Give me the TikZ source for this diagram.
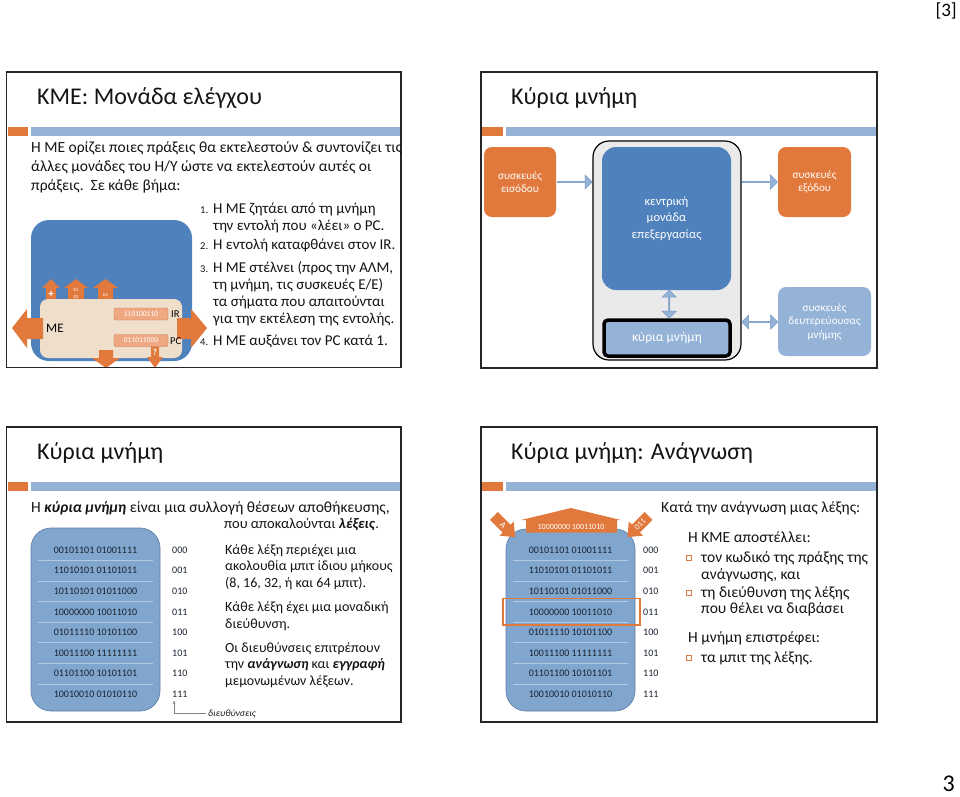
\documentclass[tikz,border=0pt]{standalone}
\usepackage{fontspec}
\setmainfont{Carlito}
\usetikzlibrary{shapes.arrows,calc,arrows.meta}
\definecolor{org}{RGB}{226,121,60}
\definecolor{barblue}{RGB}{149,179,215}
\definecolor{dblue}{RGB}{79,129,189}
\definecolor{lblue}{RGB}{149,179,215}
\definecolor{arrowedge}{RGB}{115,150,195}
\definecolor{beige}{RGB}{238,222,202}
\definecolor{salmon}{RGB}{240,168,130}
\definecolor{salmonedge}{RGB}{205,120,80}
\definecolor{cgray}{RGB}{234,234,234}
\definecolor{blobfill}{RGB}{128,166,206}
\definecolor{blobedge}{RGB}{95,128,170}
\definecolor{rowtext}{RGB}{25,35,50}
\definecolor{txt}{RGB}{20,20,20}
\begin{document}
\begin{tikzpicture}[x=1pt,y=-1pt,
  frame/.style={draw=black!85, line width=1.2pt},
  ttl/.style={font=\fontsize{24}{28}\selectfont, anchor=base west, inner sep=0, text=txt},
  body/.style={font=\fontsize{15.5}{18}\selectfont, anchor=base west, inner sep=0, text=txt},
  lst/.style={font=\fontsize{15}{18}\selectfont, anchor=base west, inner sep=0, text=txt},
  sub/.style={font=\fontsize{14}{17}\selectfont, anchor=base west, inner sep=0, text=txt},
  num/.style={font=\fontsize{10.5}{12}\selectfont, anchor=base west, inner sep=0, text=txt},
  wbox/.style={rounded corners=8pt, text=white, align=center, inner sep=0,
     font=\fontsize{11.2}{13.5}\selectfont},
  barrow/.style={single arrow, fill=lblue, draw=arrowedge, line width=0.5pt,
     minimum width=14pt, single arrow head extend=3pt, inner sep=0},
  dbarrow/.style={double arrow, fill=lblue, draw=arrowedge, line width=0.5pt,
     minimum width=14pt, double arrow head extend=3pt, inner sep=0},
  rowtxt/.style={font=\fontsize{10}{12}\selectfont, text=rowtext, inner sep=0},
  addr/.style={font=\fontsize{10}{12}\selectfont, text=rowtext, inner sep=0, anchor=west},
  wsmall/.style={text=white, inner sep=0},
  bul/.style={draw=org, line width=0.8pt}
]
\useasboundingbox (0,0) rectangle (960,796);
\fill[white] (0,0) rectangle (960,796);

% page numbers
\node[font=\fontsize{19}{22}\selectfont, anchor=north east, inner sep=0] (pg1) at (957,3) {[3]};
\node[font=\fontsize{24}{28}\selectfont, anchor=base east, inner sep=0] (pg2) at (955,791) {3};

% ================= Slide 1 =================
\begin{scope}
\clip (6.5,72) rectangle (401,367.5);
\fill[org] (7.5,127) rectangle (28,136);
\fill[barblue] (31,127) rectangle (400,136);
\fill[dblue, rounded corners=18pt] (31,220) rectangle (192,361);
% up arrows
\fill[org] (46,302) -- (46,288) -- (42,288) -- (51,279) -- (60,288) -- (56,288) -- (56,302) -- cycle;
\fill[org] (68,302) -- (68,288) -- (64,288) -- (76,279) -- (88,288) -- (84,288) -- (84,302) -- cycle;
\fill[org] (98,302) -- (98,288) -- (93,288) -- (105.5,279) -- (118,288) -- (113,288) -- (113,302) -- cycle;
\fill[beige, rounded corners=8pt] (40,299) rectangle (182,358);
% left / right arrows
\fill[org] (12,328) -- (27,309) -- (27,318) -- (43,318) -- (43,339) -- (27,339) -- (27,348) -- cycle;
\fill[org] (177,318) -- (191,318) -- (191,309) -- (207,328) -- (191,348) -- (191,339) -- (177,339) -- cycle;
% down arrows
\fill[org] (99,350) -- (113,350) -- (113,358) -- (120,358) -- (106,368) -- (92,358) -- (99,358) -- cycle;
\fill[org] (151,344) -- (159,344) -- (159,357) -- (163,357) -- (155,368) -- (147,357) -- (151,357) -- cycle;
\end{scope}
\draw[frame] (6.5,72) rectangle (401,367.5);
\node[wsmall, font=\bfseries\fontsize{11}{12}\selectfont] (plus) at (51,294) {+};
\node[wsmall, font=\fontsize{4.5}{5}\selectfont] (r1) at (76,290.5) {R1};
\node[wsmall, font=\fontsize{4.5}{5}\selectfont] (r3) at (76,297) {R3};
\node[wsmall, font=\fontsize{4.5}{5}\selectfont] (r2) at (105.5,295) {R2};
\node[wsmall, font=\bfseries\fontsize{9}{10}\selectfont] (qm) at (155,352) {?};
\node[draw=salmonedge, fill=salmon, rounded corners=2pt, minimum width=54pt, minimum height=12pt, inner sep=0,
  text=white, font=\fontsize{7.5}{8}\selectfont] (ir) at (141,314) {110100110};
\node[draw=salmonedge, fill=salmon, rounded corners=2pt, minimum width=54pt, minimum height=12pt, inner sep=0,
  text=white, font=\fontsize{7.5}{8}\selectfont] (pc) at (141,340.5) {011011000};
\node[anchor=west, inner sep=0, font=\fontsize{10.5}{12}\selectfont] (irl) at (171,314) {IR};
\node[anchor=west, inner sep=0, font=\fontsize{10.5}{12}\selectfont] (pcl) at (170,341) {PC};
\node[anchor=west, inner sep=0, font=\fontsize{13}{15}\selectfont] (me) at (46,328) {ME};

\node[ttl] (t1) at (37,104) {ΚΜΕ: Μονάδα ελέγχου};
\node[body] (b11) at (31,152) {Η ΜΕ ορίζει ποιες πράξεις θα εκτελεστούν \& συντονίζει τις};
\node[body] (b12) at (31,171) {άλλες μονάδες του Η/Υ ώστε να εκτελεστούν αυτές οι};
\node[body] (b13) at (31,190) {πράξεις.\ \ Σε κάθε βήμα:};
\node[num] (n1) at (200,213.5) {1.};
\node[lst] (l11) at (213,213.5) {Η ΜΕ ζητάει από τη μνήμη};
\node[lst] (l12) at (213,230.5) {την εντολή που «λέει» ο PC.};
\node[num] (n2) at (200,249.5) {2.};
\node[lst] (l21) at (213,249.5) {Η εντολή καταφθάνει στον IR.};
\node[num] (n3) at (200,272.5) {3.};
\node[lst] (l31) at (213,272.5) {Η ΜΕ στέλνει (προς την ΑΛΜ,};
\node[lst] (l32) at (213,289.5) {τη μνήμη, τις συσκευές Ε/Ε)};
\node[lst] (l33) at (213,306.5) {τα σήματα που απαιτούνται};
\node[lst] (l34) at (213,323.5) {για την εκτέλεση της εντολής.};
\node[num] (n4) at (200,345.5) {4.};
\node[lst] (l41) at (213,345.5) {Η ΜΕ αυξάνει τον PC κατά 1.};

% ================= Slide 2 =================
\draw[frame] (481,72) rectangle (877,368);
\fill[org] (482,127) rectangle (503,136);
\fill[barblue] (506,127) rectangle (876,136);
\node[ttl] (t2) at (511,104) {Κύρια μνήμη};
\node[wbox, fill=org, minimum width=72pt, minimum height=70pt] (in) at (520,182) {συσκευές\\εισόδου};
\node[draw=black, line width=1.2pt, fill=cgray, rounded corners=16pt, minimum width=148pt, minimum height=219pt, inner sep=0] (outer) at (667,250.5) {};
\node[wbox, fill=dblue, rounded corners=14pt, minimum width=129pt, minimum height=143pt,
  font=\fontsize{12.5}{16.5}\selectfont] (cpu) at (666.5,218.5) {κεντρική\\μονάδα\\επεξεργασίας};
\node[wbox, fill=lblue, draw=black, line width=3.5pt, rounded corners=4pt, minimum width=126pt, minimum height=36pt,
  font=\fontsize{13.5}{15}\selectfont] (mem) at (667,338) {κύρια μνήμη};
\node[wbox, fill=org, minimum width=73pt, minimum height=70pt] (out) at (814.5,182) {συσκευές\\εξόδου};
\node[wbox, fill=lblue, minimum width=93pt, minimum height=69pt] (sec) at (824.5,321.5) {συσκευές\\δευτερεύουσας\\μνήμης};
\node[barrow, minimum height=35pt] (a1) at ($(in.east)!0.5!(in.east -| outer.west)$) {};
\node[barrow, minimum height=35pt] (a2) at ($(outer.east |- out.west)!0.5!(out.west)$) {};
\node[dbarrow, minimum height=28pt, rotate=90] (a3) at ($(cpu.south)!0.5!(mem.north) + (2.5,0)$) {};
\node[dbarrow, minimum height=36pt] (a4) at ($(outer.east |- 0,322)!0.5!(sec.west |- 0,322)$) {};

% ================= Slide 3 =================
\draw[frame] (6.5,427) rectangle (401,722);
\fill[org] (7.5,482) rectangle (28,491);
\fill[barblue] (31,482) rectangle (400,491);
\node[ttl] (t3) at (37,459) {Κύρια μνήμη};
\node[body] (c1) at (31,512) {Η \textbf{\textit{κύρια μνήμη}} είναι μια συλλογή θέσεων αποθήκευσης,};
\node[sub, font=\fontsize{14.5}{17}\selectfont] (c2) at (224,528) {που αποκαλούνται \textbf{\textit{λέξεις}}.};
\node[sub] (c3) at (225,554) {Κάθε λέξη περιέχει μια};
\node[sub] (c4) at (225,570.5) {ακολουθία μπιτ ίδιου μήκους};
\node[sub] (c5) at (225,587) {(8, 16, 32, ή και 64 μπιτ).};
\node[sub] (c6) at (225,611.5) {Κάθε λέξη έχει μια μοναδική};
\node[sub] (c7) at (225,628) {διεύθυνση.};
\node[sub] (c8) at (225,652) {Οι διευθύνσεις επιτρέπουν};
\node[sub] (c9) at (225,668.5) {την \textbf{\textit{ανάγνωση}} και \textbf{\textit{εγγραφή}}};
\node[sub] (c10) at (225,685) {μεμονωμένων λέξεων.};
\draw[blobedge, fill=blobfill, line width=0.7pt, rounded corners=20pt] (31,528) rectangle (160,711);
\foreach \k in {0,...,6} \draw[white, opacity=0.4, line width=0.6pt] (38,{560.3+20.6*\k}) -- (153,{560.3+20.6*\k});
\foreach \w/\a [count=\i from 0] in {00101101 01001111/000, 11010101 01101011/001, 10110101 01011000/010, 10000000 10011010/011, 01011110 10101100/100, 10011100 11111111/101, 01101100 10101101/110, 10010010 01010110/111}{
  \node[rowtxt] (r3-\i) at (95.5,{550+20.6*\i}) {\w};
  \node[addr] (a3-\i) at (172,{550+20.6*\i}) {\a};
}
\node[anchor=base west, inner sep=0, font=\itshape\fontsize{9.5}{11}\selectfont, text=txt] (dl) at (208,716) {διευθύνσεις};
\draw[gray, line width=0.6pt, -{Stealth[length=3.5pt,width=3pt]}] ($(dl.west)+(-2,0)$) -| ($(a3-7.south west)+(2,3)$);

% ================= Slide 4 =================
\draw[frame] (481,427) rectangle (877,722);
\fill[org] (482,482) rectangle (503,491);
\fill[barblue] (506,482) rectangle (876,491);
\node[ttl] (t4) at (511,459) {Κύρια μνήμη: Ανάγνωση};
\draw[blobedge, fill=blobfill, line width=0.7pt, rounded corners=20pt] (506,529) rectangle (635,711);
\foreach \k in {0,...,6} \draw[white, opacity=0.4, line width=0.6pt] (513,{560.3+20.6*\k}) -- (628,{560.3+20.6*\k});
\foreach \w/\a [count=\i from 0] in {00101101 01001111/000, 11010101 01101011/001, 10110101 01011000/010, 10000000 10011010/011, 01011110 10101100/100, 10011100 11111111/101, 01101100 10101101/110, 10010010 01010110/111}{
  \node[rowtxt] (r4-\i) at (570.5,{550+20.6*\i}) {\w};
  \node[addr] (a4-\i) at (643,{550+20.6*\i}) {\a};
}
\draw[org, line width=1.4pt] (503,598.5) rectangle (640,625);
% top arrow
\fill[org] (521,520) -- (571,508) -- (621,520) -- (617,520) -- (617,532.5) -- (526,532.5) -- (526,520) -- cycle;
\node[wsmall, font=\fontsize{8}{9}\selectfont] (rd) at (571,526.5) {10000000 10011010};
% diagonal arrows
\begin{scope}[shift={(504.5,526.5)}, rotate=-45]
\fill[org] (-15,-5.5) -- (3,-5.5) -- (3,-10) -- (15,0) -- (3,10) -- (3,5.5) -- (-15,5.5) -- cycle;
\end{scope}
\node[wsmall, rotate=-45, font=\fontsize{9}{10}\selectfont] (lA) at (503,525) {A};
\begin{scope}[shift={(638,526.5)}, rotate=45]
\fill[org] (15,-5.5) -- (-3,-5.5) -- (-3,-10) -- (-15,0) -- (-3,10) -- (-3,5.5) -- (15,5.5) -- cycle;
\end{scope}
\node[wsmall, rotate=45, font=\fontsize{8}{9}\selectfont] (l011) at (640,524.5) {011};
% right text
\node[body] (d1) at (661,512) {Κατά την ανάγνωση μιας λέξης:};
\node[body] (d2) at (688,542) {Η ΚΜΕ αποστέλλει:};
\draw[bul] (686,555) rectangle (691,560);
\node[body] (d3) at (701,562) {τον κωδικό της πράξης της};
\node[body] (d4) at (701,579) {ανάγνωσης, και};
\draw[bul] (686,590) rectangle (691,595);
\node[body] (d5) at (701,597) {τη διεύθυνση της λέξης};
\node[body] (d6) at (701,613) {που θέλει να διαβάσει};
\node[body] (d7) at (688,642) {Η μνήμη επιστρέφει:};
\draw[bul] (686,655) rectangle (691,660);
\node[body] (d8) at (701,662) {τα μπιτ της λέξης.};
\end{tikzpicture}
\end{document}
